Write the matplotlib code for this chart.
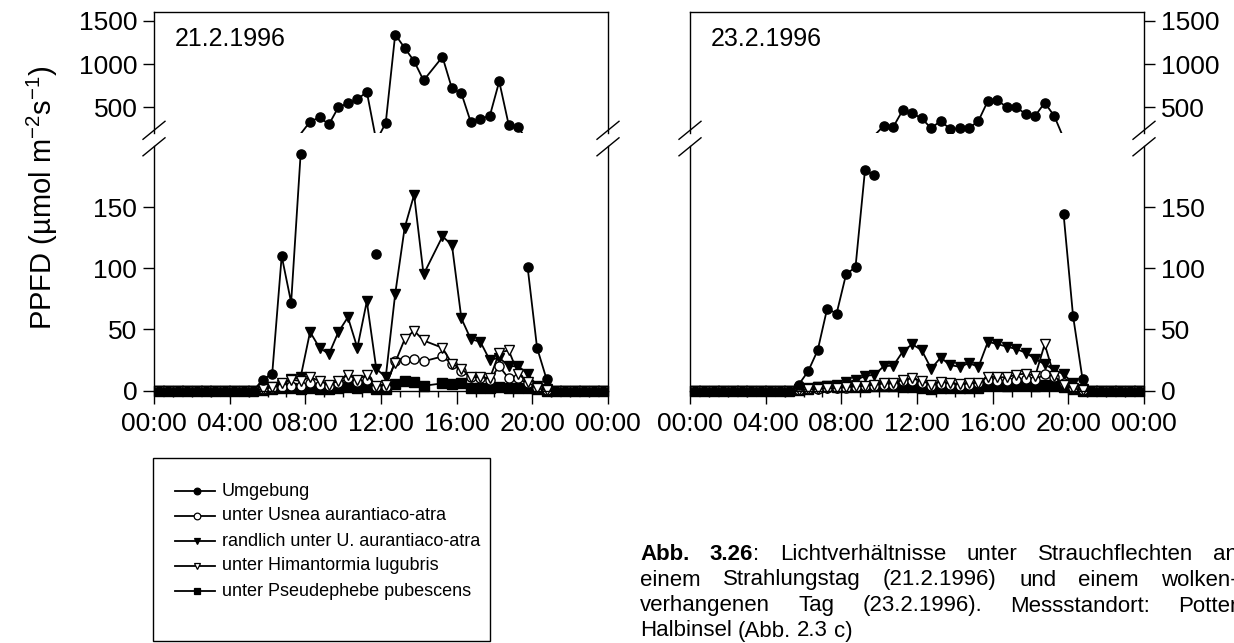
import numpy as np
import matplotlib
matplotlib.use("Agg")
import matplotlib.pyplot as plt
from matplotlib.lines import Line2D
from matplotlib.patches import Rectangle

plt.rcParams['font.family'] = ['Liberation Sans', 'DejaVu Sans']
plt.rcParams['mathtext.fontset'] = 'custom'
plt.rcParams['mathtext.rm'] = 'Liberation Sans'
plt.rcParams['mathtext.it'] = 'Liberation Sans:italic'
plt.rcParams['mathtext.default'] = 'regular'

W, H, DPI = 1234, 643, 100
NA = np.nan

# half-hourly means, stamped at hh:15 and hh:45
hours = 0.25 + 0.5 * np.arange(48)

labels = ["Umgebung",
          "unter Usnea aurantiaco-atra",
          "randlich unter U. aurantiaco-atra",
          "unter Himantormia lugubris",
          "unter Pseudephebe pubescens"]

# ---- 21.2.1996 (clear day) ----
umgebung_21 = [0, 0, 0, 0, 0, 0, 0, 0, 0, 0, 0, 9, 14, 110, 72, 193,
               334, 385, 304, 503, 546, 592, 680, 112, 319, 1343, 1188, 1035, 812, NA, 1084, 719,
               662, 327, 369, 400, 800, 299, 276, 101, 35, 9.5, 0, 0, 0, 0, 0, 0]
usnea_21 = [0, 0, 0, 0, 0, 0, 0, 0, 0, 0, 0, 1, 2, 3, 4, 4,
            6, 5, 4, 6, 10, 7, 9, 3, 3, 24, 25, 26, 24, NA, 28, 22,
            16, 11, 10, 9, 20, 10, 10, 6, 2, 0.5, 0, 0, 0, 0, 0, 0]
randlich_21 = [0, 0, 0, 0, 0, 0, 0, 0, 0, 0, 0, 1, 3, 5, 9.5, 11,
               48, 35, 30, 48, 60, 35, 73, 18, 11, 79, 133, 160, 95, NA, 126, 119,
               59, 42, 40, 25, 27, 20, 20, 14, 4, 1, 0, 0, 0, 0, 0, 0]
himantormia_21 = [0, 0, 0, 0, 0, 0, 0, 0, 0, 0, 0, 1, 3, 6, 9, 8,
                  11, 8, 5, 8, 13, 9, 13, 4, 5, 23, 42, 49, 41, NA, 35, 22,
                  18, 11, 11, 10, 31, 33, 14, 7, 2, 0.5, 0, 0, 0, 0, 0, 0]
pseudephebe_21 = [0, 0, 0, 0, 0, 0, 0, 0, 0, 0, 0, 0.5, 1, 2, 2, 1.5,
                  2, 1.5, 1.5, 2, 3, 2, 3, 1, 1.5, 5.5, 8, 7.5, 4, NA, 6, 5.5,
                  6, 2.5, 2, 2, 3, 2, 2.5, 2, 1, 0, 0, 0, 0, 0, 0, 0]

# ---- 23.2.1996 (overcast day) ----
umgebung_23 = [0, 0, 0, 0, 0, 0, 0, 0, 0, 0, 0, 5, 16, 33, 67, 63,
               95, 101, 180, 176, 288, 276, 469, 431, 373, 258, 345, 249, 258, 258, 345, 576,
               584, 500, 500, 423, 403, 553, 403, 144, 61, 9.5, 0, 0, 0, 0, 0, 0]
usnea_23 = [0, 0, 0, 0, 0, 0, 0, 0, 0, 0, 0, 0.5, 1, 1.5, 2, 2,
            2.5, 3, 3.5, 4, 5, 5, 8, 8, 6, 4, 5.5, 4.5, 4, 4.5, 6, 8.5,
            8, 8, 9, 9.5, 9, 13.5, 11, 6, 2, 0.5, 0, 0, 0, 0, 0, 0]
randlich_23 = [0, 0, 0, 0, 0, 0, 0, 0, 0, 0, 0, 1, 2, 3, 4, 5,
               7, 8.5, 12, 13, 20, 20.5, 32, 38, 33, 18, 27, 21, 19.5, 22.5, 19.5, 40,
               38, 36, 34, 31, 26, 21.5, 17, 13.5, 6, 1, 0, 0, 0, 0, 0, 0]
himantormia_23 = [0, 0, 0, 0, 0, 0, 0, 0, 0, 0, 0, 0.5, 1, 1.5, 2, 2,
                  3, 3.5, 4, 5, 6, 6, 9, 10, 8, 5, 7.5, 6, 5.5, 6, 6.5, 11.5,
                  11, 11, 13, 14, 12, 38, 12, 5, 2, 0.5, 0, 0, 0, 0, 0, 0]
pseudephebe_23 = [0, 0, 0, 0, 0, 0, 0, 0, 0, 0, 0, 0.5, 1.5, 2.7, 4, 3.3,
                  3, 3.3, 3.3, 4, 3.5, 4, 3, 2.7, 2, 1.5, 2, 2, 2, 2.5, 2.5, 5,
                  4.5, 4, 4.5, 5, 4, 4.5, 5, 3, 1, 0, 0, 0, 0, 0, 0, 0]

x_ticks = [0, 4, 8, 12, 16, 20, 24]
x_ticklabels = ["00:00", "04:00", "08:00", "12:00", "16:00", "20:00", "00:00"]
lo_ticks = [0, 50, 100, 150]
hi_ticks = [500, 1000, 1500]
lo_range = (0, 200)
hi_range = (200, 1600)

# series drawn bottom to top: data of day 1, data of day 2, marker, face colour
styles = [
    (pseudephebe_21, pseudephebe_23, 's', 'black'),
    (randlich_21, randlich_23, 'v', 'black'),
    (usnea_21, usnea_23, 'o', 'white'),
    (himantormia_21, himantormia_23, 'v', 'white'),
    (umgebung_21, umgebung_23, 'o', 'black'),
]

fig = plt.figure(figsize=(W / DPI, H / DPI), dpi=DPI)


def fx(px):
    return px / W


def fy(py):
    return 1 - py / H


def rect(x0, y_top, x1, y_bot):
    return [fx(x0), fy(y_bot), fx(x1) - fx(x0), fy(y_top) - fy(y_bot)]


TOP, HI_BOT, LO_TOP, LO_BOT = 12.3, 133.3, 145.8, 390.7
PW = 454
TICK_FS = 19
LW = 1.3
MS = 6.6


def style_axis(ax, side):
    for s in ax.spines.values():
        s.set_linewidth(1.0)
    ax.set_xlim(0, 24)
    ax.tick_params(axis='both', which='both', direction='out', width=1.0,
                   labelsize=TICK_FS, color='black')
    ax.tick_params(axis='y', length=8, pad=4)
    if side == 'left':
        ax.yaxis.tick_left()
    else:
        ax.yaxis.tick_right()


def draw_day(x0, date_text, col, side):
    ax_hi = fig.add_axes(rect(x0, TOP, x0 + PW, HI_BOT))
    ax_lo = fig.add_axes(rect(x0, LO_TOP, x0 + PW, LO_BOT))
    for ax in (ax_hi, ax_lo):
        style_axis(ax, side)
    ax_hi.set_ylim(*hi_range)
    ax_lo.set_ylim(*lo_range)
    ax_hi.spines['bottom'].set_visible(False)
    ax_lo.spines['top'].set_visible(False)
    ax_hi.set_xticks([])
    ax_hi.set_yticks(hi_ticks)
    ax_hi.set_yticklabels([str(v) for v in hi_ticks])
    ax_lo.set_yticks(lo_ticks)
    ax_lo.set_yticklabels([str(v) for v in lo_ticks])
    ax_lo.set_xticks(x_ticks)
    ax_lo.set_xticklabels(x_ticklabels)
    ax_lo.set_xticks(np.arange(0, 25, 1), minor=True)
    ax_lo.tick_params(axis='x', which='major', length=9, pad=6)
    ax_lo.tick_params(axis='x', which='minor', length=4)

    for st in styles:
        y = np.asarray(st[col], float)
        ok = ~np.isnan(y)
        t, v = hours[ok], y[ok]
        mk = dict(marker=st[2], ms=MS, mfc=st[3], mec='black', mew=1.0)
        # upper part: full line clipped to the panel, markers only for points inside it
        ax_hi.plot(t, v, color='black', lw=LW, clip_on=True)
        v_hi = np.where(v >= hi_range[0], v, np.nan)
        ax_hi.plot(t, v_hi, lw=0, clip_on=True, **mk)
        # lower part: points above the break are left out
        v_lo = np.where(v > lo_range[1], np.nan, v)
        ax_lo.plot(t, v_lo, color='black', lw=LW, clip_on=False, **mk)

    ax_hi.text(0.045, 0.78, date_text, transform=ax_hi.transAxes,
               fontsize=18, ha='left', va='center')

    # axis-break marks on both outer spines
    for sx in (x0, x0 + PW):
        for yb in (HI_BOT - 3, LO_TOP + 1):
            fig.add_artist(Line2D([fx(sx - 11), fx(sx + 11)],
                                  [fy(yb + 9), fy(yb - 9)],
                                  transform=fig.transFigure, color='black', lw=1.0))
    return ax_hi, ax_lo


draw_day(154, "21.2.1996", 0, 'left')
draw_day(690, "23.2.1996", 1, 'right')

fig.text(fx(42), fy(198), r'PPFD (µmol m$^{-2}$s$^{-1}$)', rotation=90,
         fontsize=21, ha='center', va='center')

# legend box
fig.add_artist(Rectangle((fx(153), fy(641)), fx(490) - fx(153), fy(458) - fy(641),
                         transform=fig.transFigure, fill=False, ec='black', lw=1.0))
leg_marks = [('o', 'black'), ('o', 'white'), ('v', 'black'), ('v', 'white'), ('s', 'black')]
for k, (lab, (mk, fc)) in enumerate(zip(labels, leg_marks)):
    yy = 491 + k * 25
    fig.add_artist(Line2D([fx(175), fx(215)], [fy(yy), fy(yy)], transform=fig.transFigure,
                          color='black', lw=LW))
    fig.add_artist(Line2D([fx(197)], [fy(yy)], transform=fig.transFigure, lw=0,
                          marker=mk, ms=4.8, mfc=fc, mec='black', mew=0.9))
    fig.text(fx(222), fy(yy), lab, fontsize=13, ha='left', va='center')

# justified caption
CAP_FS = 16
cap_lines = [
    [[("Abb.", 'bold')], [("3.26", 'bold'), (":", 'normal')], [("Lichtverhältnisse", 'normal')],
     [("unter", 'normal')], [("Strauchflechten", 'normal')], [("an", 'normal')]],
    [[("einem", 'normal')], [("Strahlungstag", 'normal')], [("(21.2.1996)", 'normal')],
     [("und", 'normal')], [("einem", 'normal')], [("wolken-", 'normal')]],
    [[("verhangenen", 'normal')], [("Tag", 'normal')], [("(23.2.1996).", 'normal')],
     [("Messstandort:", 'normal')], [("Potter", 'normal')]],
    [[("Halbinsel", 'normal')], [("(Abb.", 'normal')], [("2.3", 'normal')], [("c)", 'normal')]],
]
CAP_X0, CAP_X1 = 640, 1238
cap_y = [554, 580, 606, 631]
renderer = fig.canvas.get_renderer()


def measure(s, weight):
    t = fig.text(0, 0, s, fontsize=CAP_FS, fontweight=weight)
    w = t.get_window_extent(renderer).width
    t.remove()
    return w


space_w = measure("a b", 'normal') - measure("ab", 'normal')
for li, words in enumerate(cap_lines):
    widths = [sum(measure(p, wt) for p, wt in w) for w in words]
    if li < 3:
        gap = (CAP_X1 - CAP_X0 - sum(widths)) / (len(words) - 1)
    else:
        gap = space_w
    x = CAP_X0
    for w, wd in zip(words, widths):
        xx = x
        for p, wt in w:
            fig.text(fx(xx), fy(cap_y[li]), p, fontsize=CAP_FS, fontweight=wt,
                     ha='left', va='center')
            xx += measure(p, wt)
        x += wd + gap

fig.savefig("out.png", dpi=DPI)
